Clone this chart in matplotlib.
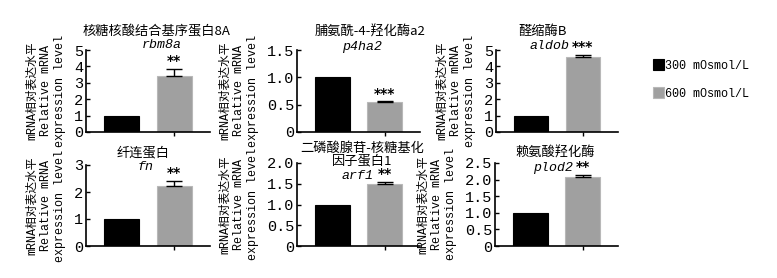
import matplotlib
matplotlib.use("Agg")
import matplotlib.pyplot as plt

# data
genes = ["rbm8a", "p4ha2", "aldob", "fn", "arf1", "plod2"]
titles_cn = ["核糖核酸结合基序蛋白8A", "脯氨酰-4-羟化酶a2", "醛缩酶B",
             "纤连蛋白", "二磷酸腺苷-核糖基化\n因子蛋白1", "赖氨酸羟化酶"]
ctrl = [1.0, 1.0, 1.0, 1.0, 1.0, 1.0]
hyper = [3.4, 0.54, 4.6, 2.22, 1.49, 2.08]
hyper_err = [0.45, 0.02, 0.1, 0.18, 0.05, 0.07]
ymax = [5, 1.5, 5, 3, 2, 2.5]
ystep = [1, 0.5, 1, 1, 0.5, 0.5]
sig = ["**", "***", "***", "**", "**", "**"]
groups = ["300 mOsmol/L", "600 mOsmol/L"]

W, H = 777, 278
MONO = ["Liberation Mono", "Noto Sans CJK SC"]
CJK = ["Noto Sans CJK SC", "DejaVu Sans"]

# axes boxes in pixels: left, right, top, bottom
boxes = [(86, 210, 50, 132), (297, 420, 50, 132), (496, 618, 50, 132),
         (86, 210, 165, 246), (297, 420, 163, 246), (495, 618, 163, 246)]
# title / gene label positions in axes fraction: (tx, ty, gx, gy)
label_pos = [(0.57, 1.22, 0.61, 1.06), (0.59, 1.22, 0.53, 1.04),
             (0.385, 1.23, 0.44, 1.05), (0.46, 1.15, 0.48, 0.975),
             (0.53, 1.1, 0.49, 0.84), (0.49, 1.12, 0.47, 0.94)]

fig = plt.figure(figsize=(W / 100, H / 100), dpi=100)

bars_for_legend = None
for i in range(6):
    l, r, t, b = boxes[i]
    ax = fig.add_axes([l / W, 1 - b / H, (r - l) / W, (b - t) / H])
    b1 = ax.bar(0, ctrl[i], width=0.67, color="black", edgecolor="black", lw=0.8)
    b2 = ax.bar(1, hyper[i], width=0.67, color="#a0a0a0", edgecolor="#b8b8b8", lw=0.8)
    ax.errorbar(1, hyper[i], yerr=[[0], [hyper_err[i]]], fmt="none",
                ecolor="black", elinewidth=1, capsize=6, capthick=1)
    if bars_for_legend is None:
        bars_for_legend = (b1, b2)
    ax.set_xlim(-0.68, 1.68)
    ax.set_ylim(0, ymax[i])
    n = int(round(ymax[i] / ystep[i]))
    ticks = [k * ystep[i] for k in range(n + 1)]
    ax.set_yticks(ticks)
    ax.set_yticklabels(["0" if v == 0 else (f"{v:.0f}" if ystep[i] >= 1 else f"{v:.1f}")
                        for v in ticks], family=MONO, fontsize=11)
    ax.set_xticks([1])
    ax.set_xticklabels([])
    ax.tick_params(axis="y", direction="in", length=3, width=1, pad=2)
    ax.tick_params(axis="x", direction="out", length=3, width=1)
    for s in ["top", "right"]:
        ax.spines[s].set_visible(False)
    for s in ["left", "bottom"]:
        ax.spines[s].set_linewidth(1.2)
    ax.set_ylabel("mRNA相对表达水平\nRelative mRNA\nexpression level",
                  family=MONO, fontsize=8.5, linespacing=1.2, labelpad=6)
    tx, ty, gx, gy = label_pos[i]
    ax.text(tx, ty, titles_cn[i], transform=ax.transAxes, ha="center", va="center",
            family=CJK, fontsize=9.5, linespacing=1.0)
    ax.text(gx, gy, genes[i], transform=ax.transAxes, ha="center", va="center",
            family="Liberation Mono", style="italic", fontsize=9.5)
    ax.text(1, hyper[i] + hyper_err[i] + ymax[i] * 0.01, sig[i], ha="center",
            va="bottom", family="DejaVu Sans", fontweight="bold", fontsize=10)

fig.legend(bars_for_legend, groups, loc="upper left",
           bbox_to_anchor=(647 / W, 1 - 53 / H), frameon=False,
           prop={"family": "Liberation Mono", "size": 8.5},
           handlelength=0.9, handleheight=1.1, handletextpad=0.15,
           labelspacing=1.3, borderpad=0)

fig.savefig("out.png", dpi=100)
